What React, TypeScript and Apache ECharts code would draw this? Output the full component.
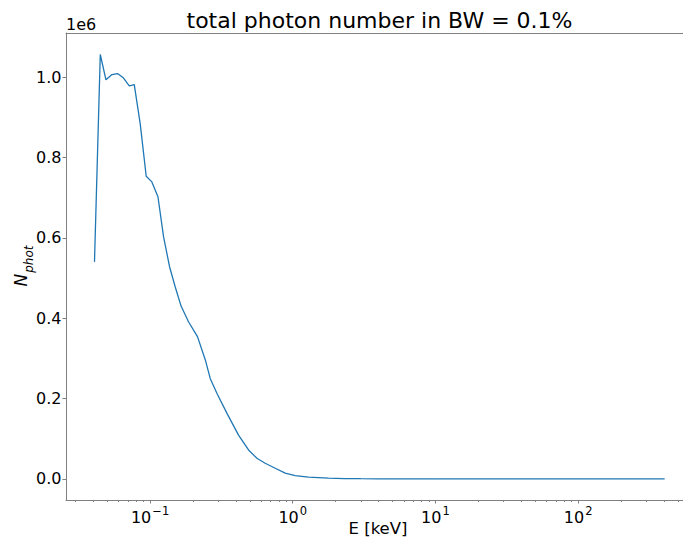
import React, { useEffect, useRef } from "react";
import * as echarts from "echarts";

// Photon energy (keV)
const ENERGY_KEV = [
  0.0408, 0.0448, 0.0491, 0.0541, 0.0592, 0.0652, 0.0715, 0.0775, 0.0853, 0.094,
  0.103, 0.1136, 0.1244, 0.137, 0.15, 0.165, 0.186, 0.215, 0.244, 0.264,
  0.294, 0.346, 0.417, 0.49, 0.561, 0.641, 0.754, 0.886, 1.04, 1.29,
  1.78, 2.3, 3.0, 4.0, 5.5, 7.5, 10, 15, 25, 40, 70, 120, 200, 300, 404,
];
// Total photon number (in units of 1e6)
const N_PHOT_MILLIONS = [
  0.54, 1.056, 0.993, 1.006, 1.0085, 0.9975, 0.978, 0.981, 0.884, 0.753,
  0.739, 0.702, 0.602, 0.528, 0.478, 0.43, 0.391, 0.354, 0.296, 0.25,
  0.213, 0.163, 0.109, 0.072, 0.0514, 0.039, 0.0266, 0.0142, 0.0082, 0.0042,
  0.0017, 0.0009, 0.0005, 0.0003, 0.00015, 0.00008, 0.00004, 0.00002, 0.00001, 0,
  0, 0, 0, 0, 0,
];
const X_MAJOR_EXPONENTS = [-1, 0, 1, 2];
const Y_TICKS = [0, 0.2, 0.4, 0.6, 0.8, 1.0];

const FONT = "DejaVu Sans";
const SPINE = "#808080";
const X_MIN = -1.589;
const X_MAX = 2.735;

export default function App() {
  const ref = useRef<HTMLDivElement>(null);
  useEffect(() => {
    if (!ref.current) return;
    const chart = echarts.init(ref.current, null, { renderer: "svg" });
    const minorTicks: number[] = [];
    for (let d = -2; d <= 2; d++) {
      for (let k = 2; k <= 9; k++) minorTicks.push(Math.log10(k * Math.pow(10, d)));
    }
    const data = ENERGY_KEV.map((e, i) => [Math.log10(e), N_PHOT_MILLIONS[i]]);
    chart.setOption({
      animation: false,
      grid: { left: 66, top: 33, right: 0, bottom: 38, show: false },
      xAxis: [
        {
          type: "value",
          min: X_MIN,
          max: X_MAX,
          position: "bottom",
          axisLine: { show: true, onZero: false, lineStyle: { color: SPINE, width: 1 } },
          axisTick: {
            show: true,
            customValues: X_MAJOR_EXPONENTS,
            length: 3.5,
            lineStyle: { color: SPINE, width: 1 },
          },
          axisLabel: {
            customValues: X_MAJOR_EXPONENTS,
            margin: 5,
            color: "#000",
            formatter: (v: number) =>
              `{b|10}{s|${v < 0 ? "\u2212" : ""}${Math.abs(Math.round(v))}}`,
            rich: {
              b: { fontSize: 16, fontFamily: FONT, color: "#000", verticalAlign: "bottom", lineHeight: 20 },
              s: { fontSize: 11.5, fontFamily: FONT, color: "#000", verticalAlign: "top", lineHeight: 12, padding: [0, 0, 0, 1] },
            },
          },
          splitLine: { show: false },
        },
        {
          type: "value",
          min: X_MIN,
          max: X_MAX,
          position: "bottom",
          axisLine: { show: false, onZero: false },
          axisTick: {
            show: true,
            customValues: minorTicks,
            length: 2,
            lineStyle: { color: SPINE, width: 1 },
          },
          axisLabel: { show: false },
          splitLine: { show: false },
        },
        {
          type: "value",
          min: X_MIN,
          max: X_MAX,
          position: "top",
          axisLine: { show: true, onZero: false, lineStyle: { color: SPINE, width: 1 } },
          axisTick: { show: false },
          axisLabel: { show: false },
          splitLine: { show: false },
        },
      ],
      yAxis: {
        type: "value",
        min: -0.0525,
        max: 1.1095,
        axisLine: { show: true, onZero: false, lineStyle: { color: SPINE, width: 1 } },
        axisTick: {
          show: true,
          customValues: Y_TICKS,
          length: 3.5,
          lineStyle: { color: SPINE, width: 1 },
        },
        axisLabel: {
          customValues: Y_TICKS,
          formatter: (v: number) => v.toFixed(1),
          fontSize: 16,
          fontFamily: FONT,
          color: "#000",
          margin: 4.5,
        },
        splitLine: { show: false },
      },
      series: [
        {
          type: "line",
          xAxisIndex: 0,
          data,
          showSymbol: false,
          lineStyle: { color: "#1f77b4", width: 1.3 },
          itemStyle: { color: "#1f77b4" },
        },
      ],
      graphic: [
        {
          type: "text",
          x: 379.5,
          y: 20,
          style: {
            text: "total photon number in BW = 0.1%",
            fontSize: 22,
            fontFamily: FONT,
            fill: "#000",
            align: "center",
            verticalAlign: "middle",
          },
        },
        {
          type: "text",
          x: 66,
          y: 24,
          style: {
            text: "1e6",
            fontSize: 16,
            fontFamily: FONT,
            fill: "#000",
            align: "left",
            verticalAlign: "middle",
          },
        },
        {
          type: "text",
          x: 378,
          y: 528,
          style: {
            text: "E [keV]",
            fontSize: 16.5,
            fontFamily: FONT,
            fill: "#000",
            align: "center",
            verticalAlign: "middle",
          },
        },
        {
          type: "text",
          x: 22,
          y: 266,
          rotation: Math.PI / 2,
          style: {
            text: "{n|N}{p|phot}",
            align: "center",
            verticalAlign: "middle",
            rich: {
              n: { fontSize: 17, fontFamily: FONT, fontStyle: "italic", fill: "#000", verticalAlign: "top", lineHeight: 20 },
              p: { fontSize: 12, fontFamily: FONT, fontStyle: "italic", fill: "#000", verticalAlign: "top", lineHeight: 12, padding: [11, 0, 0, 1] },
            },
          },
        },
      ],
    });
    return () => chart.dispose();
  }, []);
  return (
    <div
      ref={ref}
      style={{ position: "fixed", left: 0, top: 0, width: 683, height: 538, background: "#fff" }}
    />
  );
}
